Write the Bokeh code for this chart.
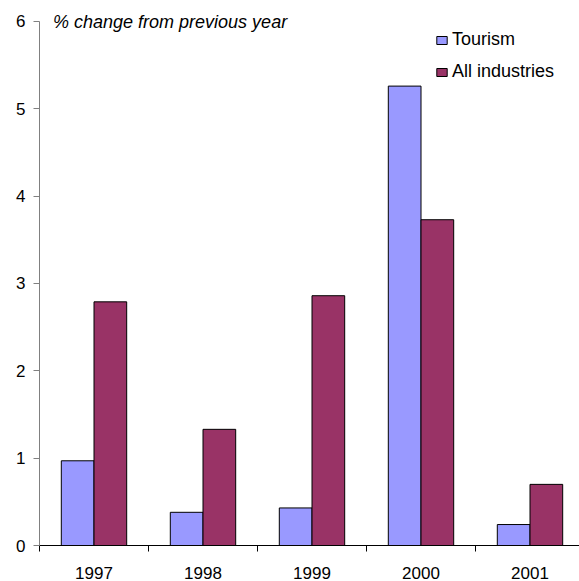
from bokeh.plotting import figure
from bokeh.models import (Range1d, FixedTicker, ColumnDataSource, Label,
                          Legend, LegendItem)
from bokeh.embed import file_html
from bokeh.resources import INLINE

# ---- data ----
years = ["1997", "1998", "1999", "2000", "2001"]
tourism = [0.97, 0.38, 0.43, 5.26, 0.24]
all_industries = [2.79, 1.33, 2.86, 3.73, 0.70]
y_ticks = [0, 1, 2, 3, 4, 5, 6]
title_text = "% change from previous year"

FONT = "Liberation Sans"
BLUE = "#9999FF"
PLUM = "#993366"

idx = list(range(len(years)))
centers = [i + 0.5 for i in idx]
boundaries = list(range(len(years) + 1))
src = ColumnDataSource(dict(
    year=years,
    xt=[c - 0.15 for c in centers],
    xa=[c + 0.15 for c in centers],
    tourism=tourism,
    allind=all_industries,
))

PX_PER_CAT = 109.0
PX_PER_UNIT = 87.5
W, H = 579, 581
LEFT, TOP, BOTTOM = 39, 8, 35

p = figure(width=W, height=H, output_backend="svg", toolbar_location=None,
           x_range=Range1d(0, (W - LEFT) / PX_PER_CAT),
           y_range=Range1d(0, (H - TOP - BOTTOM) / PX_PER_UNIT),
           min_border_left=LEFT, min_border_right=0, min_border_top=TOP,
           min_border_bottom=BOTTOM)
p.outline_line_color = None
p.xgrid.visible = False
p.ygrid.visible = False
p.background_fill_color = "white"
p.border_fill_color = "white"

r1 = p.vbar(x="xt", top="tourism", width=0.3, source=src,
            fill_color=BLUE, line_color="#000000", line_width=1)
r2 = p.vbar(x="xa", top="allind", width=0.3, source=src,
            fill_color=PLUM, line_color="#000000", line_width=1)

# y axis
ya = p.yaxis[0]
ya.ticker = FixedTicker(ticks=y_ticks)
ya.bounds = (y_ticks[0], y_ticks[-1])
ya.minor_tick_line_color = None
ya.major_tick_in = 0
ya.major_tick_out = 6
ya.axis_line_color = "#808080"
ya.major_tick_line_color = "#808080"
ya.major_label_text_font = FONT
ya.major_label_text_font_size = "17px"
ya.major_label_text_color = "#000000"
ya.major_label_standoff = 8

# x axis: labels at category centres, tick marks at category boundaries
xa = p.xaxis[0]
xa.ticker = FixedTicker(ticks=centers, minor_ticks=boundaries)
xa.major_label_overrides = {c: y for c, y in zip(centers, years)}
xa.major_tick_line_color = None
xa.major_tick_in = 0
xa.major_tick_out = 0
xa.minor_tick_in = 0
xa.minor_tick_out = 6
xa.minor_tick_line_color = "#000000"
xa.axis_line_color = "#000000"
xa.major_label_text_font = FONT
xa.major_label_text_font_size = "17px"
xa.major_label_text_color = "#000000"
xa.major_label_standoff = 15

p.add_layout(Label(x=0.124, y=y_ticks[-1], text=title_text, text_align="left",
                   text_baseline="middle", text_font=FONT,
                   text_font_size="18px", text_font_style="italic",
                   text_color="#000000", y_offset=-1))

legend = Legend(items=[LegendItem(label="Tourism", renderers=[r1]),
                       LegendItem(label="All industries", renderers=[r2])],
                location=(396, 463), orientation="vertical",
                glyph_width=13, glyph_height=10, label_standoff=4,
                spacing=11, padding=0, margin=0,
                border_line_color=None, background_fill_alpha=0,
                label_text_font=FONT, label_text_font_size="18px",
                label_text_color="#000000")
p.add_layout(legend)

open("out.html", "w").write(file_html(p, INLINE))
